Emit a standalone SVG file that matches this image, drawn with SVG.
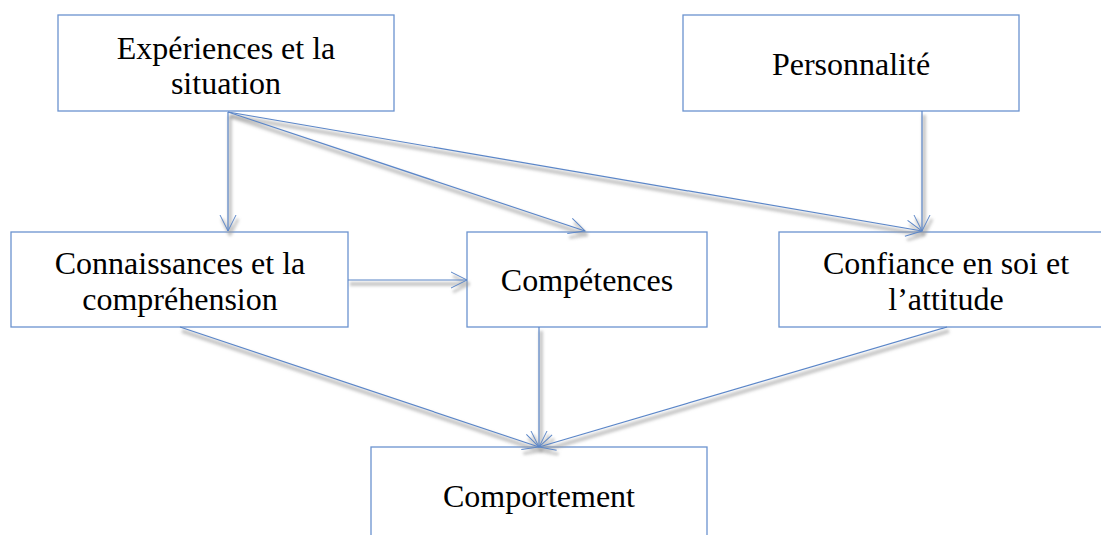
<svg xmlns="http://www.w3.org/2000/svg" width="1101" height="535" viewBox="0 0 1101 535">
<style>
.box{fill:#fff;stroke:#6b93cf;stroke-width:1.3}
.t{font-family:"Liberation Serif","Times New Roman",serif;font-size:32px;fill:#000;text-anchor:middle}
.c{fill:none;stroke:#5b86c8;stroke-width:1.2}
.s{fill:none;stroke:#9a9a9a;stroke-width:4;opacity:0.55}
</style>
<defs>
<filter id="bl" x="-20%" y="-20%" width="140%" height="140%">
<feGaussianBlur stdDeviation="1.8"/>
</filter>
<marker id="ah" viewBox="0 0 18 18" refX="17" refY="9" markerWidth="18" markerHeight="18" markerUnits="userSpaceOnUse" orient="auto">
<path d="M1,1 L17,9 L1,17" fill="none" stroke="#5b86c8" stroke-width="1"/>
</marker>
<marker id="sah" viewBox="0 0 18 18" refX="17" refY="9" markerWidth="18" markerHeight="18" markerUnits="userSpaceOnUse" orient="auto">
<path d="M1,1 L17,9 L1,17" fill="none" stroke="#9a9a9a" stroke-width="3"/>
</marker>
</defs>
<g id="n1"><rect class="box" x="58" y="15" width="336" height="96"/><text class="t" x="226" y="59">Expériences et la</text><text class="t" x="226" y="94">situation</text></g>
<g id="n2"><rect class="box" x="683" y="15" width="336" height="96"/><text class="t" x="851" y="75">Personnalité</text></g>
<g id="n3"><rect class="box" x="11" y="232" width="337" height="95"/><text class="t" x="180" y="274">Connaissances et la</text><text class="t" x="180" y="310">compréhension</text></g>
<g id="n4"><rect class="box" x="467" y="232" width="240" height="95"/><text class="t" x="587" y="291">Compétences</text></g>
<g id="n5"><rect class="box" x="779" y="232" width="334" height="95"/><text class="t" x="946" y="274">Confiance en soi et</text><text class="t" x="946" y="310">l’attitude</text></g>
<g id="n6"><rect class="box" x="371" y="447" width="336" height="100"/><text class="t" x="539" y="507">Comportement</text></g>
<g id="connectors">
<g filter="url(#bl)" transform="translate(2,4)">
<line class="s" x1="228" y1="112" x2="228" y2="231" marker-end="url(#sah)"/>
<line class="s" x1="228" y1="112" x2="585" y2="231" marker-end="url(#sah)"/>
<line class="s" x1="228" y1="112" x2="922" y2="231" marker-end="url(#sah)"/>
<line class="s" x1="922" y1="111" x2="922" y2="231" marker-end="url(#sah)"/>
<line class="s" x1="348" y1="280" x2="467" y2="280" marker-end="url(#sah)"/>
<line class="s" x1="539" y1="327" x2="539" y2="447" marker-end="url(#sah)"/>
<line class="s" x1="180" y1="327" x2="539" y2="447" marker-end="url(#sah)"/>
<line class="s" x1="947" y1="327" x2="539" y2="447" marker-end="url(#sah)"/>
</g>
<line class="c" x1="228" y1="112" x2="228" y2="231" marker-end="url(#ah)"/>
<line class="c" x1="228" y1="112" x2="585" y2="231" marker-end="url(#ah)"/>
<line class="c" x1="228" y1="112" x2="922" y2="231" marker-end="url(#ah)"/>
<line class="c" x1="922" y1="111" x2="922" y2="231" marker-end="url(#ah)"/>
<line class="c" x1="348" y1="280" x2="467" y2="280" marker-end="url(#ah)"/>
<line class="c" x1="539" y1="327" x2="539" y2="447" marker-end="url(#ah)"/>
<line class="c" x1="180" y1="327" x2="539" y2="447" marker-end="url(#ah)"/>
<line class="c" x1="947" y1="327" x2="539" y2="447" marker-end="url(#ah)"/>
</g>
</svg>
